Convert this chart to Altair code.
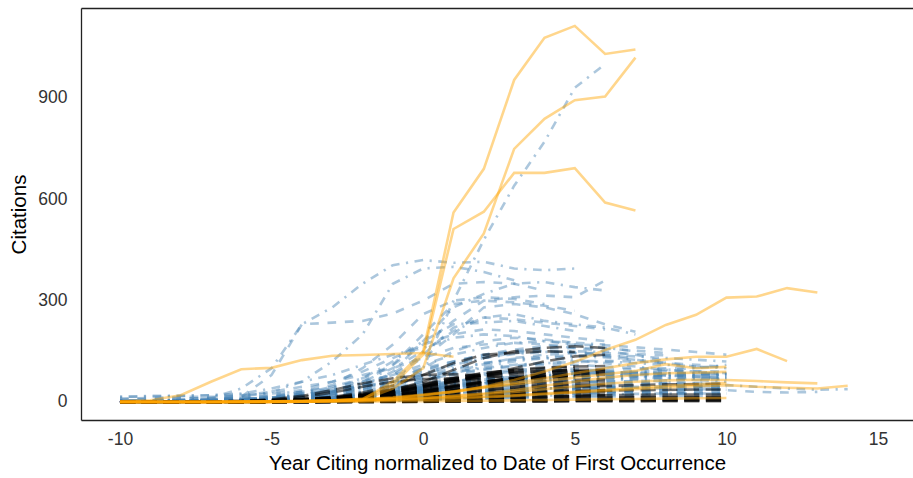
import altair as alt
import pandas as pd

# ---------------- data (citations per year, x starts at -10 for every series) ----------------
X_START = -10

ORANGE = [
    [0, 0, 0, 0, 0, 0, 1, 3, 8, 60, 150, 561, 690, 953, 1078, 1113, 1030, 1043],
    [0, 0, 0, 0, 0, 0, 1, 2, 6, 40, 100, 366, 499, 749, 838, 893, 904, 1019],
    [0, 0, 0, 0, 0, 1, 2, 4, 10, 50, 140, 512, 563, 678, 678, 692, 590, 567],
    [2, 5, 20, 60, 97, 101, 124, 137, 139, 142, 145, 134],
    [0, 0, 0, 0, 1, 2, 3, 5, 8, 12, 20, 30, 45, 65, 90, 119, 154, 184, 228, 258, 309, 312, 337, 324],
    [0, 0, 0, 0, 1, 2, 3, 5, 8, 14, 22, 32, 44, 56, 70, 85, 100, 115, 126, 134, 134, 157, 121],
    [0, 0, 0, 0, 0, 1, 2, 3, 5, 8, 12, 17, 23, 30, 38, 46, 54, 60, 64, 66, 65, 62, 58, 55],
    [0, 0, 0, 0, 0, 0, 1, 2, 3, 5, 7, 10, 14, 18, 23, 28, 33, 38, 43, 47, 50, 45, 42, 40, 48],
    [0, 0, 0, 0, 0, 1, 2, 4, 7, 12, 20, 30, 42, 52, 62, 72, 82, 92, 112, 100, 104],
    [0, 0, 0, 0, 1, 1, 2, 3, 5, 8, 12, 18, 25, 35, 48, 60, 72, 80, 85, 87, 89],
    [1, 1, 1, 1, 2, 2, 3, 4, 6, 8, 10, 13, 16, 20, 25, 30, 36, 42, 48, 52, 56],
    [0, 0, 0, 0, 0, 0, 1, 1, 1, 2, 2, 3, 4, 5, 6, 7, 8, 9, 10, 11, 12],
]

BLUE_DOTDASH = [
    [0, 0, 0, 0, 0, 2, 5, 10, 20, 40, 100, 300, 480, 640, 770, 930, 1000],
    [5, 5, 8, 12, 40, 100, 230, 280, 350, 405, 420, 412, 415, 395, 390, 395],
    [0, 2, 4, 8, 15, 30, 60, 120, 200, 350, 395, 400, 385, 360],
    [0, 0, 0, 1, 3, 6, 12, 25, 45, 90, 180, 280, 320, 350, 355, 340, 330],
    [2, 2, 3, 4, 6, 10, 20, 35, 60, 100, 150, 210, 250, 260, 240, 230, 220, 200],
    [1, 2, 3, 5, 8, 12, 25, 45, 70, 120, 180, 230, 235, 240, 225, 210],
    [15, 18, 18, 20, 25, 40, 60, 80, 110, 140, 160, 190, 200, 195, 180, 170, 160, 150],
    [0, 1, 3, 5, 8, 12, 20, 30, 45, 60, 80, 100, 115, 125, 130, 125, 115, 105, 95, 90, 85],
    [0, 1, 2, 3, 4, 6, 8, 12, 18, 25, 35, 45, 55, 65, 70, 75, 70, 65, 60, 55, 50, 45, 40, 36, 38],
    [0, 0, 0, 1, 2, 4, 6, 10, 15, 22, 30, 40, 50, 58, 65, 70, 72, 75, 78, 80, 82],
    [5, 5, 6, 8, 10, 12, 15, 20, 28, 38, 50, 62, 70, 75, 78, 80, 85, 90, 95, 100, 110],
    [1, 1, 2, 2, 3, 5, 8, 12, 20, 30, 45, 60, 75, 85, 90, 88, 82, 75, 70, 65, 60],
    [0, 0, 1, 1, 2, 3, 5, 8, 12, 16, 22, 28, 34, 38, 40, 42, 44, 45, 46, 46, 45],
    [15, 16, 18, 20, 22, 25, 30, 38, 48, 60, 75, 90, 100, 110, 115, 118, 120, 115, 110, 105, 100],
    [3, 3, 4, 5, 6, 8, 11, 16, 24, 34, 46, 58, 68, 76, 82, 86, 88, 88, 86, 84, 82],
    [0, 0, 1, 1, 2, 3, 4, 6, 9, 13, 18, 24, 30, 36, 40, 42, 43, 42, 40, 38, 36],
    [2, 3, 4, 6, 9, 14, 22, 35, 55, 80, 110, 140, 160, 175, 180, 175, 170],
    [0, 0, 1, 2, 3, 5, 9, 15, 25, 40, 60, 85, 105, 120, 130, 135, 132, 125, 118],
    [0, 0, 0, 1, 2, 4, 7, 12, 18, 26, 36, 46, 56, 64, 70, 74, 76, 77, 77, 76, 75],
    [2, 2, 3, 4, 5, 7, 10, 15, 22, 31, 42, 54, 64, 72, 78, 82, 84, 85, 85, 84, 83],
    [1, 1, 2, 3, 4, 6, 9, 14, 21, 30, 41, 52, 61, 68, 73, 76, 77, 77, 76, 74, 72],
    [0, 1, 1, 2, 3, 5, 8, 12, 18, 26, 36, 48, 59, 68, 75, 80, 83, 85, 86, 86, 86],
    [3, 3, 4, 5, 6, 8, 11, 15, 21, 29, 39, 50, 60, 68, 74, 78, 80, 81, 81, 80, 78],
    [0, 0, 0, 0, 0, 0, 1, 2, 3, 5, 7, 10, 13, 16, 19, 21, 23, 24, 25, 25, 25],
    [0, 0, 0, 1, 2, 3, 5, 8, 12, 18, 26, 35, 44, 52, 58, 63, 66, 68, 69, 69, 68],
    [0, 0, 1, 1, 2, 4, 6, 10, 15, 22, 31, 41, 51, 59, 65, 69, 71, 72, 72, 71, 70],
    [0, 0, 1, 2, 4, 7, 12, 20, 32, 50, 72, 95, 115, 128, 135, 138, 138, 135, 130, 125, 120],
    [0, 1, 2, 3, 5, 9, 15, 25, 40, 60, 85, 110, 130, 142, 148, 150, 148],
]

BLUE_DASHED = [
    [0, 0, 2, 5, 15, 80, 230, 235, 240, 262, 300, 350, 355, 350, 330],
    [0, 0, 0, 2, 5, 10, 20, 40, 70, 110, 170, 240, 300, 310, 315, 310, 360],
    [0, 0, 1, 3, 6, 10, 18, 30, 50, 80, 130, 200, 280, 290, 280, 260, 230, 208],
    [0, 1, 2, 3, 5, 8, 15, 30, 60, 110, 200, 290, 300, 295, 285, 270],
    [0, 0, 2, 4, 8, 15, 30, 50, 100, 170, 260, 300, 310, 305, 290],
    [0, 0, 1, 2, 4, 8, 15, 28, 50, 85, 140, 220, 250, 245, 235, 225, 215],
    [10, 12, 15, 15, 18, 25, 35, 60, 90, 130, 170, 200, 215, 210, 200, 190, 180],
    [5, 8, 10, 12, 20, 30, 45, 60, 80, 100, 130, 160, 170, 175, 170, 160, 150, 140, 120],
    [0, 2, 5, 8, 12, 18, 30, 45, 60, 80, 100, 120, 140, 150, 150, 145, 135, 125, 115, 105],
    [2, 3, 4, 6, 8, 10, 15, 25, 35, 50, 65, 80, 95, 105, 110, 110, 105, 100, 95, 90, 80],
    [0, 0, 1, 2, 3, 4, 6, 9, 13, 18, 25, 32, 40, 48, 55, 60, 62, 60, 55, 45, 35, 30, 28, 30],
    [0, 0, 1, 2, 3, 5, 8, 12, 18, 25, 35, 45, 55, 60, 62, 60, 58, 55, 52, 50, 48],
    [0, 0, 0, 0, 1, 2, 4, 7, 12, 20, 30, 42, 55, 68, 80, 90, 95, 98, 100, 102, 105],
    [0, 0, 0, 1, 1, 2, 3, 5, 8, 12, 18, 25, 32, 40, 45, 48, 50, 50, 48, 46, 44],
    [0, 0, 0, 0, 0, 1, 2, 3, 5, 8, 12, 18, 25, 30, 35, 38, 40, 40, 38, 36, 35],
    [2, 3, 4, 5, 7, 10, 14, 20, 28, 40, 55, 70, 85, 95, 100, 98, 92, 85, 80, 75, 70],
    [0, 1, 2, 3, 5, 8, 12, 18, 25, 35, 50, 65, 80, 90, 95, 92, 85, 80, 78, 75, 72],
    [0, 0, 0, 0, 1, 1, 2, 3, 4, 6, 8, 10, 12, 14, 16, 18, 20, 22, 24, 25, 26],
    [0, 0, 0, 1, 2, 3, 5, 8, 13, 20, 28, 36, 44, 50, 55, 58, 60, 62, 64, 66, 68],
    [0, 0, 0, 0, 1, 2, 3, 5, 7, 10, 14, 18, 22, 26, 28, 30, 30, 29, 28, 27, 26],
    [0, 0, 0, 0, 0, 0, 1, 2, 3, 5, 8, 12, 16, 20, 24, 27, 30, 32, 34, 35, 36],
    [8, 9, 10, 12, 14, 18, 24, 32, 42, 55, 70, 85, 98, 108, 115, 120, 122, 120, 116, 110, 104],
    [0, 0, 0, 0, 0, 1, 1, 2, 3, 4, 6, 8, 10, 12, 14, 15, 16, 17, 18, 18, 18],
    [0, 0, 0, 1, 1, 2, 3, 4, 6, 8, 11, 14, 17, 20, 22, 24, 25, 26, 26, 25, 24],
    [1, 2, 3, 4, 6, 9, 14, 22, 35, 55, 80, 110, 130, 145, 150, 148, 140, 130],
    [0, 1, 2, 3, 5, 8, 14, 24, 40, 65, 100, 150, 180, 190, 185, 175],
    [0, 0, 1, 2, 3, 5, 8, 13, 20, 30, 42, 55, 66, 75, 80, 83, 84, 84, 83, 82, 80],
    [0, 0, 0, 0, 1, 2, 3, 5, 8, 12, 17, 23, 29, 34, 38, 41, 43, 44, 45, 45, 45],
    [0, 0, 0, 0, 0, 1, 2, 4, 6, 9, 13, 18, 23, 28, 32, 35, 37, 38, 39, 39, 39],
    [0, 0, 0, 0, 1, 1, 2, 4, 6, 9, 13, 18, 24, 30, 35, 39, 42, 44, 45, 46, 46],
    [0, 0, 0, 1, 1, 2, 4, 6, 10, 15, 21, 28, 35, 41, 46, 50, 53, 55, 56, 57, 57],
    [1, 1, 2, 3, 4, 6, 9, 13, 19, 27, 37, 49, 60, 70, 78, 84, 88, 90, 91, 91, 90],
    [0, 0, 0, 0, 0, 1, 1, 2, 3, 5, 7, 10, 14, 18, 22, 25, 28, 30, 31, 32, 32],
    [0, 0, 0, 0, 1, 2, 3, 5, 7, 11, 16, 22, 28, 34, 39, 43, 46, 48, 49, 50, 50],
    [1, 2, 3, 5, 8, 13, 20, 30, 45, 65, 90, 115, 135, 150, 158, 160, 158, 152, 145],
    [2, 3, 4, 6, 9, 14, 22, 34, 50, 70, 95, 120, 140, 155, 165, 170, 168, 162, 155, 148, 140],
    [0, 0, 1, 2, 3, 5, 8, 14, 24, 40, 62, 88, 112, 130, 140, 145, 145, 142, 138],
]

BLACK = [
    [0, 0, 0, 0, 1, 2, 4, 8, 15, 25, 40, 60, 80, 100, 120, 135, 140],
    [0, 0, 0, 0, 1, 2, 5, 10, 20, 35, 60, 95, 130, 150, 160, 165, 160],
    [0, 0, 0, 1, 2, 4, 8, 15, 28, 48, 80, 115, 140, 145, 150, 148],
    [0, 0, 0, 1, 2, 4, 7, 12, 20, 32, 48, 65, 80, 92, 100, 105],
    [0, 0, 0, 0, 0, 1, 2, 4, 8, 15, 25, 38, 52, 65, 75, 82, 86],
    [0, 0, 0, 0, 0, 0, 1, 2, 4, 7, 12, 18, 25, 32, 38, 43, 47, 50, 52, 53, 54],
    [0, 0, 0, 0, 1, 2, 3, 5, 9, 15, 24, 35, 46, 55, 62, 66, 68],
    [0, 0, 0, 0, 0, 0, 0, 1, 2, 4, 7, 11, 16, 21, 26, 30, 33, 35, 36, 37, 37],
    [0, 0, 0, 0, 0, 1, 2, 3, 5, 8, 12, 17, 22, 27, 31, 34, 36],
    [0, 0, 0, 0, 0, 0, 1, 1, 2, 3, 5, 7, 10, 13, 16, 18, 20, 21, 22, 22, 22],
    [0, 0, 0, 0, 0, 0, 0, 0, 1, 1, 2, 3, 5, 7, 9, 11, 13, 14, 15, 15, 15],
    [0, 0, 0, 0, 1, 2, 4, 7, 12, 20, 32, 46, 60, 72, 82, 90, 95],
    [0, 0, 0, 0, 0, 1, 2, 4, 8, 14, 22, 34, 48, 62, 70, 72],
    [0, 0, 0, 0, 0, 0, 0, 0, 0, 1, 1, 2, 3, 4, 5, 6, 7, 8, 8, 8, 8],
    [0, 0, 0, 0, 0, 0, 0, 1, 1, 2, 3, 4, 6, 8, 10, 12, 13, 14, 14, 14, 14],
    [0, 0, 1, 2, 3, 5, 8, 12, 18, 26, 36, 48, 60, 70, 78, 84, 88],
    [0, 0, 0, 0, 0, 0, 1, 2, 3, 5, 8, 12, 17, 22, 27, 31, 34],
    [0, 0, 0, 0, 0, 1, 3, 6, 11, 18, 28, 40, 55, 70, 85, 100],
    [0, 0, 0, 0, 0, 0, 0, 0, 0, 0, 1, 1, 1, 2, 2, 3, 3, 3, 4, 4, 4],
    [0, 0, 0, 0, 0, 1, 2, 5, 10, 18, 30, 45, 60, 70, 75, 78],
    [0, 0, 0, 0, 1, 3, 6, 12, 22, 36, 52, 68, 80, 88, 92, 95, 96],
    [0, 0, 0, 0, 0, 0, 1, 3, 6, 11, 18, 27, 36, 44, 50, 55],
    [0, 0, 0, 1, 2, 4, 8, 14, 24, 38, 55, 72, 86, 96, 102, 105, 106],
    [0, 0, 0, 0, 0, 1, 2, 4, 7, 12, 19, 27, 35, 42, 48, 52, 55],
    [0, 0, 0, 0, 0, 0, 0, 1, 3, 6, 10, 15, 21, 27, 32, 36],
    [0, 0, 0, 0, 1, 2, 4, 8, 14, 22, 33, 45, 56, 65, 72, 77, 80],
    [0, 0, 0, 0, 0, 0, 1, 2, 4, 6, 9, 13, 17, 21, 24, 27, 29],
    [0, 0, 0, 0, 0, 2, 5, 10, 18, 30, 46, 62, 76, 86, 92, 95],
    [0, 0, 0, 0, 0, 0, 0, 1, 2, 3, 5, 8, 11, 14, 17, 19, 21],
    [0, 0, 0, 1, 1, 3, 6, 11, 19, 30, 44, 58, 70, 80, 86, 90, 92],
    [0, 0, 0, 0, 0, 1, 3, 7, 14, 24, 37, 50, 62, 70, 75, 78],
    [0, 0, 0, 0, 0, 0, 1, 2, 5, 9, 15, 22, 30, 37, 43, 47, 50],
    [0, 0, 0, 0, 0, 0, 0, 0, 1, 2, 4, 6, 9, 12, 15, 17, 19],
    [0, 0, 0, 0, 1, 2, 3, 6, 10, 16, 24, 33, 42, 50, 56, 60, 63],
    [0, 0, 0, 0, 0, 0, 0, 0, 0, 1, 1, 2, 2, 3, 3, 4, 4, 5, 5, 5, 5],
    [0, 0, 0, 0, 0, 0, 0, 0, 1, 1, 2, 3, 4, 5, 6, 7, 7, 8, 8, 9, 9],
    [0, 0, 0, 0, 0, 0, 0, 0, 0, 0, 0, 1, 1, 1, 1, 2, 2, 2, 2, 2, 2],
    [0, 0, 0, 0, 1, 2, 4, 8, 15, 28, 45, 65, 80],
    [0, 0, 0, 1, 2, 4, 7, 12, 20, 32, 50, 70, 85, 95],
    [0, 0, 0, 0, 0, 1, 3, 6, 11, 19, 30, 44],
    [0, 0, 1, 2, 3, 5, 8, 13, 20, 30, 44, 60, 76, 90],
    [0, 0, 0, 1, 3, 8, 18, 35, 55, 70, 80, 82, 78, 70],
    [0, 0, 0, 0, 2, 6, 14, 28, 45, 60, 68, 70, 66],
]

X_TICKS = [-10, -5, 0, 5, 10, 15]
Y_TICKS = [0, 300, 600, 900]


def to_frame(name, series_list):
    rows = []
    for i, s in enumerate(series_list):
        for j, v in enumerate(s):
            rows.append({"x": X_START + j, "y": v, "sid": f"{name}{i:03d}"})
    return pd.DataFrame(rows)


FONT = "Liberation Sans"
W, H = 832, 412
LW = 2.6

xscale = alt.Scale(domain=[-11.286, 16.154], nice=False, zero=False)
yscale = alt.Scale(domain=[-53.3, 1166], nice=False, zero=False)

x_bottom = alt.Axis(values=X_TICKS, title="Year Citing normalized to Date of First Occurrence",
                    orient="bottom", grid=False, ticks=False, domain=True,
                    labelExpr="'' + datum.value")
x_top = alt.Axis(orient="top", labels=False, ticks=False, title=None, grid=False, domain=True)
y_axis = alt.Axis(values=Y_TICKS, title="Citations", grid=False, ticks=False, domain=True,
                  labelExpr="'' + datum.value")


def layer(df, color, opacity, dash, xaxis):
    kw = dict(color=color, opacity=opacity, strokeWidth=LW, clip=True)
    if dash:
        kw["strokeDash"] = dash
    if xaxis is not None:
        xenc = alt.X("x:Q", scale=xscale, axis=xaxis)
    else:
        xenc = alt.X("x:Q", scale=xscale, axis=None)
    return alt.Chart(df).mark_line(**kw).encode(
        x=xenc,
        y=alt.Y("y:Q", scale=yscale, axis=y_axis),
        detail="sid:N",
        order="x:Q",
    )


l_blue_dash = layer(to_frame("bd", BLUE_DASHED), "#4682B4", 0.45, [8.7, 8.7], x_bottom)
l_blue_dd = layer(to_frame("bdd", BLUE_DOTDASH), "#4682B4", 0.45, [2.2, 6.5, 8.7, 6.5], None)
l_black = layer(to_frame("k", BLACK), "#000000", 0.55, [15.2, 6.5], None)
l_orange = layer(to_frame("o", ORANGE), "#FFA500", 0.45, None, x_top)

chart = alt.layer(l_blue_dash, l_blue_dd, l_black, l_orange).resolve_axis(x="independent").properties(
    width=W, height=H,
    autosize=alt.AutoSizeParams(type="none"),
    padding={"left": 81, "top": 8, "right": 0, "bottom": 58},
).configure_view(stroke=None).configure_axis(
    labelFont=FONT, titleFont=FONT, labelFontSize=17.5, titleFontSize=20.5,
    labelColor="#333333", titleColor="#000000", titleFontWeight="normal",
    domainColor="#222222", domainWidth=1.3,
).configure_axisX(labelPadding=10, titlePadding=6).configure_axisY(labelPadding=14, titlePadding=8)

chart.save("out.html", embed_options={"renderer": "svg", "actions": False})
